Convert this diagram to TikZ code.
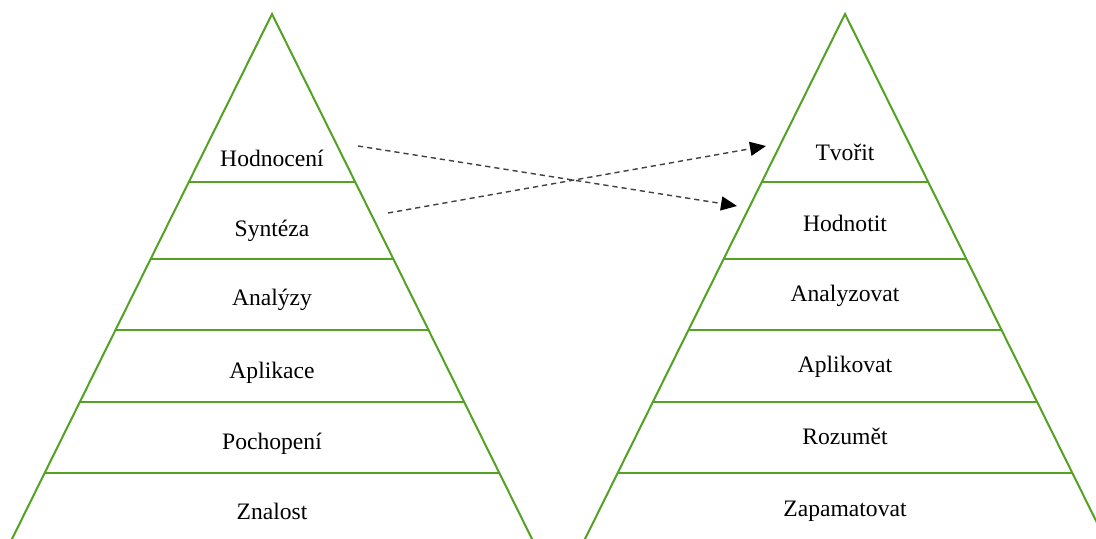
\documentclass[tikz,border=0pt]{standalone}
\usepackage{fontspec}
\setmainfont{Liberation Serif}
\usetikzlibrary{arrows.meta}

\definecolor{pyrgreen}{RGB}{84,162,36}

\tikzset{
  pyr/.style={draw=pyrgreen, line width=1pt},
  lvl/.style={anchor=base, inner sep=0pt, font=\fontsize{11.8}{14}\selectfont},
  link/.style={dash pattern=on 2.6pt off 2pt, draw=black!75, line width=0.7pt,
    -{Triangle[length=8pt,width=7pt,color=black]}}
}

\begin{document}
\begin{tikzpicture}[x=0.5pt,y=-0.5pt]
  \clip (0,0) rectangle (1096,539);
  \fill[white] (0,0) rectangle (1096,539);

  % left pyramid (old)
  \draw[pyr] (9,545) -- (272,14) -- (535,545);
  \draw[pyr] (189,182) -- (355,182);
  \draw[pyr] (151,259) -- (393,259);
  \draw[pyr] (116,330) -- (428,330);
  \draw[pyr] (80,402) -- (464,402);
  \draw[pyr] (45,473) -- (499,473);

  \node(hod1)[lvl] at (272,167) {Hodnocení};
  \node(syn1)[lvl] at (272,237) {Syntéza};
  \node(ana1)[lvl] at (272,306) {Analýzy};
  \node(apl1)[lvl] at (272,378) {Aplikace};
  \node(poc1)[lvl] at (272,449) {Pochopení};
  \node(zna1)[lvl] at (272,519) {Znalost};

  % right pyramid (revised)
  \draw[pyr] (582,545) -- (845,14) -- (1108,545);
  \draw[pyr] (762,182) -- (928,182);
  \draw[pyr] (724,259) -- (966,259);
  \draw[pyr] (689,330) -- (1001,330);
  \draw[pyr] (653,402) -- (1037,402);
  \draw[pyr] (618,473) -- (1072,473);

  \node(tvo2)[lvl] at (845,161) {Tvořit};
  \node(hod2)[lvl] at (845,232) {Hodnotit};
  \node(ana2)[lvl] at (845,302) {Analyzovat};
  \node(apl2)[lvl] at (845,372) {Aplikovat};
  \node(roz2)[lvl] at (845,444) {Rozumět};
  \node(zap2)[lvl] at (845,516) {Zapamatovat};

  \coordinate(hodout) at (358,146);
  \coordinate(synout) at (388,213);
  \coordinate(hodin) at (737,206);
  \coordinate(tvoin) at (766,146);

  \draw[link](hodout)--(hodin);
  \draw[link](synout)--(tvoin);
\end{tikzpicture}
\end{document}
